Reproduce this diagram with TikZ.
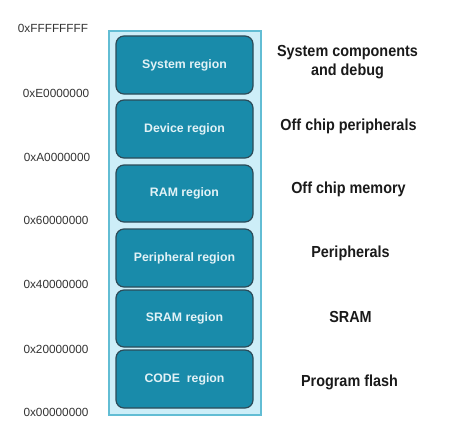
\documentclass[tikz,border=0pt]{standalone}
\usepackage{fontspec}
\setmainfont{Liberation Sans}
\newfontfamily\descfont[FakeStretch=0.9]{Liberation Sans}
\definecolor{outerfill}{HTML}{CDEEF8}
\definecolor{outerdraw}{HTML}{62BDD4}
\definecolor{boxfill}{HTML}{198BAA}
\definecolor{boxdraw}{HTML}{2C4B58}
\definecolor{boxtext}{HTML}{E2F2F6}
\definecolor{addrtext}{HTML}{333333}
\definecolor{desctext}{HTML}{1A1A1A}
\begin{document}
\begin{tikzpicture}[x=1pt,y=-1pt,
  region/.style={draw=boxdraw, line width=1.2pt, fill=boxfill, rounded corners=8pt,
    minimum width=137pt, inner sep=0pt, text=boxtext,
    font=\fontsize{12.3}{14}\selectfont\bfseries},
  addr/.style={text=addrtext, inner sep=0pt, font=\fontsize{11.8}{13}\selectfont},
  desc/.style={text=desctext, inner sep=0pt, align=center,
    font=\descfont\fontsize{16}{18.5}\selectfont\bfseries}]
\useasboundingbox (0,0) rectangle (476,428);
% outer memory map frame
\node[draw=outerdraw, line width=1.4pt, fill=outerfill, minimum width=152pt, minimum height=384pt, inner sep=0pt] (mem) at (185,223) {};
% regions
\node[region, minimum height=58pt] (r1) at (184.5,65) {System region};
\node[region, minimum height=58pt] (r2) at (184.5,129) {Device region};
\node[region, minimum height=57pt] (r3) at (184.5,193.5) {RAM region};
\node[region, minimum height=58pt] (r4) at (184.5,258) {Peripheral region};
\node[region, minimum height=57pt] (r5) at (184.5,318.5) {SRAM region};
\node[region, minimum height=58pt] (r6) at (184.5,379) {CODE\ \ region};
% addresses
\node[addr] (a7) at (53,28) {0xFFFFFFFF};
\node[addr] (a6) at (56,93) {0xE0000000};
\node[addr] (a5) at (57,157) {0xA0000000};
\node[addr] (a4) at (56,220) {0x60000000};
\node[addr] (a3) at (56,284) {0x40000000};
\node[addr] (a2) at (56,349) {0x20000000};
\node[addr] (a1) at (56,412) {0x00000000};
% descriptions
\node[desc] (d1) at (347.5,62) {System components\\and debug};
\node[desc] (d2) at (348.5,126) {Off chip peripherals};
\node[desc] (d3) at (348.5,189) {Off chip memory};
\node[desc] (d4) at (350.5,253) {Peripherals};
\node[desc] (d5) at (350.5,317) {SRAM};
\node[desc] (d6) at (349.5,382) {Program flash};
\end{tikzpicture}
\end{document}
